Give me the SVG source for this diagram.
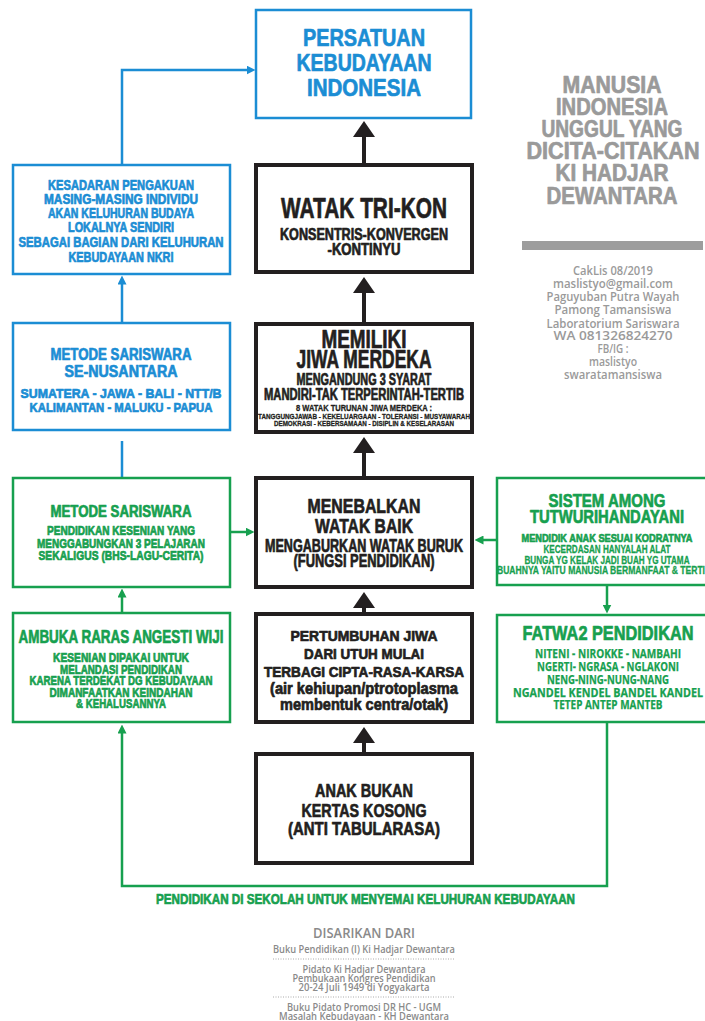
<svg xmlns="http://www.w3.org/2000/svg" width="705" height="1021" viewBox="0 0 705 1021">
<style>
.k{font-family:"Liberation Sans","Arial",sans-serif;font-weight:bold;text-anchor:middle;stroke-width:0.7;stroke-linejoin:round}
.t{stroke-width:0.3}
.h{font-family:"Open Sans","Noto Sans","Liberation Sans",sans-serif;font-weight:bold;text-anchor:middle;stroke-width:0.25}
.s{font-family:"Open Sans","Noto Sans","Liberation Sans",sans-serif;font-weight:600;text-anchor:middle;stroke-width:0}
.bl{fill:#1b8dd4;stroke:#1b8dd4}.gr{fill:#17a04f;stroke:#17a04f}.dk{fill:#231f20;stroke:#231f20}.gy{fill:#9a9a9a;stroke:#9a9a9a}.gb{fill:#8a8a8a}
.bx{fill:#fff;stroke:#231f20;stroke-width:4}
.bb{fill:#fff;stroke:#1b8dd4;stroke-width:2.5}
.gbx{fill:#fff;stroke:#17a04f;stroke-width:2.5}
.cb{fill:none;stroke:#1b8dd4;stroke-width:2.5}
.cg{fill:none;stroke:#17a04f;stroke-width:2.5}
.ck{fill:none;stroke:#231f20;stroke-width:4}
</style>
<defs>
<marker id="mb" viewBox="0 0 9 9" refX="0.5" refY="4.5" markerWidth="9" markerHeight="9" markerUnits="userSpaceOnUse" orient="auto"><path d="M0,0 L9,4.5 L0,9z" fill="#1b8dd4"/></marker>
<marker id="mg" viewBox="0 0 9 9" refX="0.5" refY="4.5" markerWidth="9" markerHeight="9" markerUnits="userSpaceOnUse" orient="auto"><path d="M0,0 L9,4.5 L0,9z" fill="#17a04f"/></marker>
<marker id="mk" viewBox="0 0 16 22" refX="1" refY="11" markerWidth="16" markerHeight="22" markerUnits="userSpaceOnUse" orient="auto"><path d="M0,0 L16,11 L0,22z" fill="#231f20"/></marker>
</defs>
<rect width="705" height="1021" fill="#fff"/>

<g id="connectors">
<path class="ck" d="M364,163 V136" marker-end="url(#mk)"/>
<path class="ck" d="M364,322 V292" marker-end="url(#mk)"/>
<path class="ck" d="M364,476 V452" marker-end="url(#mk)"/>
<path class="ck" d="M364,612 V607" marker-end="url(#mk)"/>
<path class="ck" d="M364,752 V742" marker-end="url(#mk)"/>
<path class="cb" d="M122,165 V70 H247" marker-end="url(#mb)"/>
<path class="cb" d="M122,323 V284" marker-end="url(#mb)"/>
<path class="cb" d="M122,478 V441"/>
<path class="cg" d="M230,532 H246" marker-end="url(#mg)"/>
<path class="cg" d="M497,540 H483" marker-end="url(#mg)"/>
<path class="cg" d="M607,585 V605" marker-end="url(#mg)"/>
<path class="cg" d="M122,613 V597" marker-end="url(#mg)"/>
<path class="cg" d="M607,722 V886 H122 V733" marker-end="url(#mg)"/>
</g>

<g id="persatuan">
<rect class="bb" x="256" y="10" width="215" height="108"/>
<text class="k bl" font-size="24" x="364" y="46" textLength="122" lengthAdjust="spacingAndGlyphs">PERSATUAN</text>
<text class="k bl" font-size="24" x="364" y="71" textLength="135" lengthAdjust="spacingAndGlyphs">KEBUDAYAAN</text>
<text class="k bl" font-size="24" x="364" y="96" textLength="114" lengthAdjust="spacingAndGlyphs">INDONESIA</text>
</g>

<g id="watak-trikon">
<rect class="bx" x="256" y="165" width="216" height="107"/>
<text class="k dk" font-size="29" x="364" y="218" textLength="166" lengthAdjust="spacingAndGlyphs">WATAK TRI-KON</text>
<text class="k dk" font-size="16" x="364" y="240" textLength="168" lengthAdjust="spacingAndGlyphs">KONSENTRIS-KONVERGEN</text>
<text class="k dk" font-size="16" x="364" y="255" textLength="73" lengthAdjust="spacingAndGlyphs">-KONTINYU</text>
</g>

<g id="memiliki">
<rect class="bx" x="256" y="324" width="216" height="108"/>
<text class="k dk" font-size="25" x="364" y="348" textLength="85" lengthAdjust="spacingAndGlyphs">MEMILIKI</text>
<text class="k dk" font-size="25" x="364" y="368" textLength="135" lengthAdjust="spacingAndGlyphs">JIWA MERDEKA</text>
<text class="k dk" font-size="16" x="364" y="385" textLength="135" lengthAdjust="spacingAndGlyphs">MENGANDUNG 3 SYARAT</text>
<text class="k dk" font-size="16" x="364" y="400" textLength="200" lengthAdjust="spacingAndGlyphs">MANDIRI-TAK TERPERINTAH-TERTIB</text>
<text class="k dk t" font-size="8.5" x="364" y="411" textLength="136" lengthAdjust="spacingAndGlyphs">8 WATAK TURUNAN JIWA MERDEKA :</text>
<text class="k dk t" font-size="7.5" x="364" y="418.5" textLength="212" lengthAdjust="spacingAndGlyphs">TANGGUNGJAWAB - KEKELUARGAAN - TOLERANSI - MUSYAWARAH</text>
<text class="k dk t" font-size="7.5" x="364" y="426" textLength="180" lengthAdjust="spacingAndGlyphs">DEMOKRASI - KEBERSAMAAN - DISIPLIN &amp; KESELARASAN</text>
</g>

<g id="menebalkan">
<rect class="bx" x="256" y="478" width="216" height="109"/>
<text class="k dk" font-size="21" x="364" y="513" textLength="113" lengthAdjust="spacingAndGlyphs">MENEBALKAN</text>
<text class="k dk" font-size="21" x="364" y="533" textLength="98" lengthAdjust="spacingAndGlyphs">WATAK BAIK</text>
<text class="k dk" font-size="18" x="364" y="552" textLength="198" lengthAdjust="spacingAndGlyphs">MENGABURKAN WATAK BURUK</text>
<text class="k dk" font-size="18" x="364" y="567" textLength="141" lengthAdjust="spacingAndGlyphs">(FUNGSI PENDIDIKAN)</text>
</g>

<g id="pertumbuhan">
<rect class="bx" x="256" y="614" width="216" height="108"/>
<text class="k dk" font-size="15" x="364" y="641" textLength="147" lengthAdjust="spacingAndGlyphs">PERTUMBUHAN JIWA</text>
<text class="k dk" font-size="15" x="364" y="659" textLength="120" lengthAdjust="spacingAndGlyphs">DARI UTUH MULAI</text>
<text class="k dk" font-size="15" x="364" y="677" textLength="200" lengthAdjust="spacingAndGlyphs">TERBAGI CIPTA-RASA-KARSA</text>
<text class="k dk" font-size="16" x="364" y="694" textLength="188" lengthAdjust="spacingAndGlyphs">(air kehiupan/ptrotoplasma</text>
<text class="k dk" font-size="16" x="364" y="710" textLength="168" lengthAdjust="spacingAndGlyphs">membentuk centra/otak)</text>
</g>

<g id="anak">
<rect class="bx" x="256" y="754" width="216" height="109"/>
<text class="k dk" font-size="19" x="364" y="797" textLength="98" lengthAdjust="spacingAndGlyphs">ANAK BUKAN</text>
<text class="k dk" font-size="19" x="364" y="817" textLength="125" lengthAdjust="spacingAndGlyphs">KERTAS KOSONG</text>
<text class="k dk" font-size="19" x="364" y="835" textLength="152" lengthAdjust="spacingAndGlyphs">(ANTI TABULARASA)</text>
</g>

<g id="kesadaran">
<rect class="bb" x="13" y="165" width="217" height="109"/>
<text class="k bl" font-size="14" x="121" y="190" textLength="146" lengthAdjust="spacingAndGlyphs">KESADARAN PENGAKUAN</text>
<text class="k bl" font-size="14" x="121" y="204" textLength="154" lengthAdjust="spacingAndGlyphs">MASING-MASING INDIVIDU</text>
<text class="k bl" font-size="14" x="121" y="218" textLength="146" lengthAdjust="spacingAndGlyphs">AKAN KELUHURAN BUDAYA</text>
<text class="k bl" font-size="14" x="121" y="232" textLength="106" lengthAdjust="spacingAndGlyphs">LOKALNYA SENDIRI</text>
<text class="k bl" font-size="14" x="121" y="247" textLength="205" lengthAdjust="spacingAndGlyphs">SEBAGAI BAGIAN DARI KELUHURAN</text>
<text class="k bl" font-size="14" x="121" y="262" textLength="105" lengthAdjust="spacingAndGlyphs">KEBUDAYAAN NKRI</text>
</g>

<g id="sariswara-nusantara">
<rect class="bb" x="13" y="323" width="217" height="107"/>
<text class="k bl" font-size="16" x="121" y="360" textLength="141" lengthAdjust="spacingAndGlyphs">METODE SARISWARA</text>
<text class="k bl" font-size="16" x="121" y="377" textLength="113" lengthAdjust="spacingAndGlyphs">SE-NUSANTARA</text>
<text class="k bl" font-size="13.5" x="121" y="398" textLength="201" lengthAdjust="spacingAndGlyphs">SUMATERA - JAWA - BALI - NTT/B</text>
<text class="k bl" font-size="13.5" x="121" y="412" textLength="183" lengthAdjust="spacingAndGlyphs">KALIMANTAN - MALUKU - PAPUA</text>
</g>

<g id="metode-sariswara">
<rect class="gbx" x="13" y="478" width="217" height="109"/>
<text class="k gr" font-size="16" x="121" y="517" textLength="141" lengthAdjust="spacingAndGlyphs">METODE SARISWARA</text>
<text class="k gr" font-size="13" x="121" y="535" textLength="148" lengthAdjust="spacingAndGlyphs">PENDIDIKAN KESENIAN YANG</text>
<text class="k gr" font-size="13" x="121" y="548" textLength="168" lengthAdjust="spacingAndGlyphs">MENGGABUNGKAN 3 PELAJARAN</text>
<text class="k gr" font-size="13" x="121" y="560" textLength="165" lengthAdjust="spacingAndGlyphs">SEKALIGUS (BHS-LAGU-CERITA)</text>
</g>

<g id="ambuka">
<rect class="gbx" x="13" y="613" width="217" height="109"/>
<text class="k gr" font-size="18" x="121" y="643" textLength="205" lengthAdjust="spacingAndGlyphs">AMBUKA RARAS ANGESTI WIJI</text>
<text class="k gr" font-size="13" x="121" y="662" textLength="136" lengthAdjust="spacingAndGlyphs">KESENIAN DIPAKAI UNTUK</text>
<text class="k gr" font-size="13" x="121" y="673.5" textLength="122" lengthAdjust="spacingAndGlyphs">MELANDASI PENDIDIKAN</text>
<text class="k gr" font-size="13" x="121" y="685" textLength="183" lengthAdjust="spacingAndGlyphs">KARENA TERDEKAT DG KEBUDAYAAN</text>
<text class="k gr" font-size="13" x="121" y="696.5" textLength="143" lengthAdjust="spacingAndGlyphs">DIMANFAATKAN KEINDAHAN</text>
<text class="k gr" font-size="13" x="121" y="708" textLength="90" lengthAdjust="spacingAndGlyphs">&amp; KEHALUSANNYA</text>
</g>

<g id="sistem-among">
<rect class="gbx" x="497" y="478" width="220" height="107"/>
<text class="k gr" font-size="19" x="607" y="507" textLength="117" lengthAdjust="spacingAndGlyphs">SISTEM AMONG</text>
<text class="k gr" font-size="19" x="607" y="523" textLength="154" lengthAdjust="spacingAndGlyphs">TUTWURIHANDAYANI</text>
<text class="k gr" font-size="11.5" x="607" y="542" textLength="171" lengthAdjust="spacingAndGlyphs">MENDIDIK ANAK SESUAI KODRATNYA</text>
<text class="k gr t" font-size="10.5" x="607" y="553" textLength="127" lengthAdjust="spacingAndGlyphs">KECERDASAN HANYALAH ALAT</text>
<text class="k gr t" font-size="10.5" x="607" y="564" textLength="165" lengthAdjust="spacingAndGlyphs">BUNGA YG KELAK JADI BUAH YG UTAMA</text>
<text class="k gr t" font-size="10.5" x="497" y="574" style="text-anchor:start" textLength="208" lengthAdjust="spacingAndGlyphs">BUAHNYA YAITU MANUSIA BERMANFAAT &amp; TERTI</text>
</g>

<g id="fatwa">
<rect class="gbx" x="497" y="615" width="220" height="107"/>
<text class="k gr" font-size="20" x="608" y="640" textLength="171" lengthAdjust="spacingAndGlyphs">FATWA2 PENDIDIKAN</text>
<text class="h gr" font-size="12" x="608" y="658" textLength="146" lengthAdjust="spacingAndGlyphs">NITENI - NIROKKE - NAMBAHI</text>
<text class="h gr" font-size="12" x="608" y="671" textLength="142" lengthAdjust="spacingAndGlyphs">NGERTI- NGRASA - NGLAKONI</text>
<text class="h gr" font-size="12" x="608" y="684" textLength="122" lengthAdjust="spacingAndGlyphs">NENG-NING-NUNG-NANG</text>
<text class="h gr" font-size="12" x="608" y="696.5" textLength="190" lengthAdjust="spacingAndGlyphs">NGANDEL KENDEL BANDEL KANDEL</text>
<text class="h gr" font-size="12" x="608" y="709" textLength="109" lengthAdjust="spacingAndGlyphs">TETEP ANTEP MANTEB</text>
</g>

<g id="manusia-indonesia">
<text class="k gy" font-size="23" x="612" y="93" textLength="99" lengthAdjust="spacingAndGlyphs">MANUSIA</text>
<text class="k gy" font-size="23" x="612" y="115" textLength="112" lengthAdjust="spacingAndGlyphs">INDONESIA</text>
<text class="k gy" font-size="23" x="612" y="137" textLength="141" lengthAdjust="spacingAndGlyphs">UNGGUL YANG</text>
<text class="k gy" font-size="23" x="613" y="159" textLength="173" lengthAdjust="spacingAndGlyphs">DICITA-CITAKAN</text>
<text class="k gy" font-size="23" x="612" y="181" textLength="113" lengthAdjust="spacingAndGlyphs">KI HADJAR</text>
<text class="k gy" font-size="23" x="612" y="204" textLength="131" lengthAdjust="spacingAndGlyphs">DEWANTARA</text>
<rect x="522" y="241" width="181" height="9" fill="#9d9d9d"/>
<text class="s gy" font-size="12" x="613" y="275" textLength="80" lengthAdjust="spacingAndGlyphs">CakLis 08/2019</text>
<text class="s gy" font-size="12" x="613" y="288" textLength="120" lengthAdjust="spacingAndGlyphs">maslistyo@gmail.com</text>
<text class="s gy" font-size="12" x="613" y="301" textLength="133" lengthAdjust="spacingAndGlyphs">Paguyuban Putra Wayah</text>
<text class="s gy" font-size="12" x="613" y="314" textLength="117" lengthAdjust="spacingAndGlyphs">Pamong Tamansiswa</text>
<text class="s gy" font-size="12" x="613" y="328" textLength="133" lengthAdjust="spacingAndGlyphs">Laboratorium Sariswara</text>
<text class="s gy" font-size="12" x="613" y="340" textLength="119" lengthAdjust="spacingAndGlyphs">WA 081326824270</text>
<text class="s gy" font-size="12" x="613" y="353" textLength="31" lengthAdjust="spacingAndGlyphs">FB/IG :</text>
<text class="s gy" font-size="12" x="613" y="366" textLength="48" lengthAdjust="spacingAndGlyphs">maslistyo</text>
<text class="s gy" font-size="12" x="613" y="379" textLength="98" lengthAdjust="spacingAndGlyphs">swaratamansiswa</text>
</g>

<g id="caption">
<text class="k gr" font-size="15" x="365.5" y="904" textLength="419" lengthAdjust="spacingAndGlyphs">PENDIDIKAN DI SEKOLAH UNTUK MENYEMAI KELUHURAN KEBUDAYAAN</text>
</g>

<g id="sources">
<text class="s gb" font-size="14" x="364" y="938" textLength="102" lengthAdjust="spacingAndGlyphs">DISARIKAN DARI</text>
<text class="s gb" font-size="10" x="364" y="953" textLength="182" lengthAdjust="spacingAndGlyphs">Buku Pendidikan (I) Ki Hadjar Dewantara</text>
<line x1="273" y1="959" x2="455" y2="959" stroke="#aaa" stroke-width="1" stroke-dasharray="1 1.5"/>
<text class="s gb" font-size="10" x="364" y="973" textLength="123" lengthAdjust="spacingAndGlyphs">Pidato Ki Hadjar Dewantara</text>
<text class="s gb" font-size="10" x="364" y="982" textLength="143" lengthAdjust="spacingAndGlyphs">Pembukaan Kongres Pendidikan</text>
<text class="s gb" font-size="10" x="364" y="991" textLength="131" lengthAdjust="spacingAndGlyphs">20-24 Juli 1949 di Yogyakarta</text>
<line x1="273" y1="997" x2="455" y2="997" stroke="#aaa" stroke-width="1" stroke-dasharray="1 1.5"/>
<text class="s gb" font-size="10" x="364" y="1011" textLength="154" lengthAdjust="spacingAndGlyphs">Buku Pidato Promosi DR HC - UGM</text>
<text class="s gb" font-size="10" x="364" y="1020" textLength="170" lengthAdjust="spacingAndGlyphs">Masalah Kebudayaan - KH Dewantara</text>
</g>
</svg>
